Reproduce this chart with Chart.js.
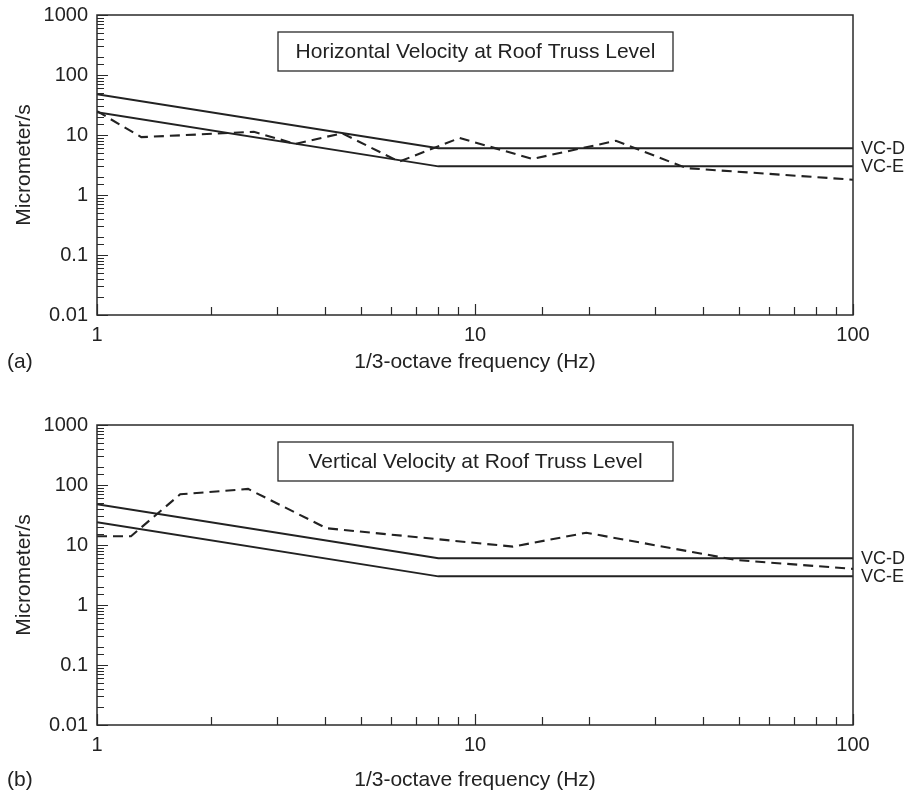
<!DOCTYPE html>
<html>
<head>
<meta charset="utf-8">
<script src="https://cdn.jsdelivr.net/npm/chart.js@4.4.1/dist/chart.umd.min.js"></script>
<style>
    html, body { margin: 0; padding: 0; background: #fff; }
    #wrap { width: 911px; height: 794px; position: relative; }
    .painel { position: absolute; left: 0; width: 911px; height: 397px; }
</style>
</head>
<body>
<div id="wrap">
    <div class="painel" style="top:0"><canvas id="graficoA"></canvas></div>
    <div class="painel" style="top:397px"><canvas id="graficoB"></canvas></div>
</div>
<script>
// criterios VC (linhas cheias)
const freqCriterio = [1, 8, 100];
const vcD = [48, 6, 6];
const vcE = [24, 3, 3];

// medições (linha tracejada)
const freqHoriz = [1, 1.31, 2.6, 3.35, 4.45, 6.3, 9.1, 14.2, 23.6, 36.3, 100];
const velHoriz = [25, 9.2, 11.3, 7.1, 10.7, 3.6, 8.9, 4.0, 8.0, 2.8, 1.8];
const freqVert = [1, 1.23, 1.66, 2.51, 4.05, 12.6, 19.7, 49.3, 100];
const velVert = [14, 14, 70, 86, 19, 9.4, 16, 5.6, 4.0];

// rótulos dos eixos
const xTickLabels = ['1', '10', '100'];
const yTickLabels = ['0.01', '0.1', '1', '10', '100', '1000'];
const labelsCriterio = ['VC-D', 'VC-E'];

const FONTE = '"Liberation Sans", Arial, Helvetica, sans-serif';
const COR = '#222';

function pontos(xs, ys) {
    return xs.map((x, i) => ({ x: x, y: ys[i] }));
}

function expoente(v) {
    const e = Math.round(Math.log10(v));
    return Math.abs(Math.log10(v) - e) < 1e-6 ? e : null;
}

const pluginMoldura = {
    id: 'moldura',
    afterDraw(chart, args, opts) {
        const { ctx, chartArea: a, scales } = chart;
        ctx.save();
        ctx.strokeStyle = '#2a2a2a';
        ctx.lineWidth = 1.5;
        ctx.strokeRect(a.left, a.top, a.right - a.left, a.bottom - a.top);

        // marcas dos eixos para dentro
        ctx.lineWidth = 1.2;
        ctx.beginPath();
        scales.x.ticks.forEach(t => {
            const px = Math.round(scales.x.getPixelForValue(t.value)) + 0.5;
            const len = expoente(t.value) !== null ? 11 : 8;
            ctx.moveTo(px, a.bottom);
            ctx.lineTo(px, a.bottom - len);
        });
        scales.y.ticks.forEach(t => {
            const py = Math.round(scales.y.getPixelForValue(t.value)) + 0.5;
            const len = expoente(t.value) !== null ? 11 : 7;
            ctx.moveTo(a.left, py);
            ctx.lineTo(a.left + len, py);
        });
        ctx.stroke();

        // caixa do titulo
        const bx = a.left + 181, by = a.top + 17, bw = 395, bh = 39;
        ctx.lineWidth = 1.3;
        ctx.strokeRect(bx, by, bw, bh);
        ctx.fillStyle = COR;
        ctx.font = '21px ' + FONTE;
        ctx.textAlign = 'center';
        ctx.textBaseline = 'middle';
        ctx.fillText(opts.titulo, bx + bw / 2, by + bh / 2 + 1);

        // rotulos VC-D / VC-E
        ctx.font = '18px ' + FONTE;
        ctx.textAlign = 'left';
        ctx.fillText(labelsCriterio[0], a.right + 8, scales.y.getPixelForValue(vcD[vcD.length - 1]) + 1);
        ctx.fillText(labelsCriterio[1], a.right + 8, scales.y.getPixelForValue(vcE[vcE.length - 1]) + 1);

        // letra do painel
        ctx.font = '21px ' + FONTE;
        const yLetra = scales.x.bottom - (12.6 + opts.padTitulo);
        ctx.fillText(opts.letra, 7, yLetra);
        ctx.restore();
    }
};

function criarGrafico(id, freq, vel, titulo, letra, cfg) {
    const ctx = document.getElementById(id).getContext('2d');
    return new Chart(ctx, {
        type: 'line',
        data: {
            datasets: [
                {
                    label: 'VC-D',
                    data: pontos(freqCriterio, vcD),
                    borderColor: COR,
                    borderWidth: 2,
                    pointRadius: 0
                },
                {
                    label: 'VC-E',
                    data: pontos(freqCriterio, vcE),
                    borderColor: COR,
                    borderWidth: 2,
                    pointRadius: 0
                },
                {
                    label: 'Medido',
                    data: pontos(freq, vel),
                    borderColor: COR,
                    borderWidth: 2.1,
                    borderDash: [10, 6],
                    pointRadius: 0
                }
            ]
        },
        options: {
            responsive: true,
            maintainAspectRatio: false,
            animation: false,
            events: [],
            layout: { padding: { left: 0, right: 58, top: cfg.top, bottom: 0 } },
            plugins: {
                legend: { display: false },
                tooltip: { enabled: false },
                moldura: { titulo: titulo, letra: letra, padTitulo: cfg.padTitulo }
            },
            scales: {
                x: {
                    type: 'logarithmic',
                    min: 1,
                    max: 100,
                    grid: { display: false, drawTicks: false },
                    border: { display: false },
                    afterFit: s => {
                        s.height = cfg.alturaX;
                        s.paddingLeft = 0;
                        s.paddingRight = 0;
                    },
                    ticks: {
                        autoSkip: false,
                        maxRotation: 0,
                        padding: 8,
                        color: COR,
                        font: { family: FONTE, size: 20 },
                        callback: v => {
                            const e = expoente(v);
                            return e === null ? '' : xTickLabels[e];
                        }
                    },
                    title: {
                        display: true,
                        text: '1/3-octave frequency (Hz)',
                        color: COR,
                        font: { family: FONTE, size: 21 },
                        padding: { top: 0, bottom: cfg.padTitulo }
                    }
                },
                y: {
                    type: 'logarithmic',
                    min: 0.01,
                    max: 1000,
                    grid: { display: false, drawTicks: false },
                    border: { display: false },
                    afterFit: s => {
                        s.width = 97;
                        s.paddingTop = 0;
                        s.paddingBottom = 0;
                    },
                    ticks: {
                        autoSkip: false,
                        padding: 9,
                        color: COR,
                        font: { family: FONTE, size: 20 },
                        callback: v => {
                            const e = expoente(v);
                            return e === null ? '' : yTickLabels[e + 2];
                        }
                    },
                    title: {
                        display: true,
                        text: 'Micrometer/s',
                        color: COR,
                        font: { family: FONTE, size: 21 },
                        padding: { top: 12, bottom: 0 }
                    }
                }
            }
        },
        plugins: [pluginMoldura]
    });
}

criarGrafico('graficoA', freqHoriz, velHoriz, 'Horizontal Velocity at Roof Truss Level', '(a)',
    { top: 15, alturaX: 82, padTitulo: 22.4 });
criarGrafico('graficoB', freqVert, velVert, 'Vertical Velocity at Roof Truss Level', '(b)',
    { top: 28, alturaX: 69, padTitulo: 1.4 });
</script>
</body>
</html>
